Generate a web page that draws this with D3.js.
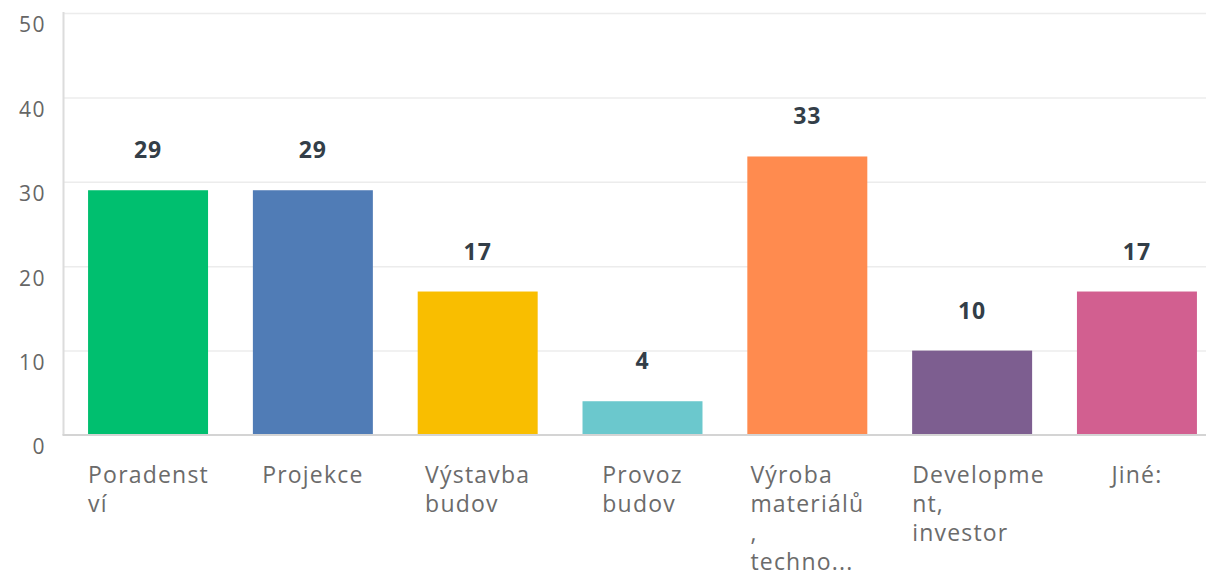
<!DOCTYPE html>
<html>
<head>
<meta charset="utf-8">
<script src="https://cdn.jsdelivr.net/npm/d3@7"></script>
<style>
  body { margin: 0; background: #fff; }
  svg { display: block; }
</style>
</head>
<body>
<svg id="chart"></svg>
<script>
// data
const categories = ["Poradenství", "Projekce", "Výstavba budov", "Provoz budov",
  "Výroba materiálů, techno...", "Development, investor", "Jiné:"];
const tickLines = [
  ["Poradenst", "ví"],
  ["Projekce"],
  ["Výstavba", "budov"],
  ["Provoz", "budov"],
  ["Výroba", "materiálů", ",", "techno..."],
  ["Developme", "nt,", "investor"],
  ["Jiné:"]
];
const values = [29, 29, 17, 4, 33, 10, 17];
const colors = ["#00bf6f", "#507cb6", "#f9be00", "#6bc8cd", "#ff8b4f", "#7d5e90", "#d25f90"];
const yTicks = [0, 10, 20, 30, 40, 50];

const width = 1206, height = 578;
const margin = { top: 13, right: 0, bottom: 143, left: 64 };

const svg = d3.select("#chart")
  .attr("width", width)
  .attr("height", height);

const x = d3.scaleBand()
  .domain(categories)
  .range([margin.left, 1221])
  .paddingInner(0.272)
  .paddingOuter(0.146);

const y = d3.scaleLinear()
  .domain([0, 50])
  .range([height - margin.bottom, margin.top]);

// gridlines + y labels
const yAxis = d3.axisLeft(y)
  .tickValues(yTicks)
  .tickSize(-(width - margin.left))
  .tickFormat(d3.format("d"));

const yAxisGroup = svg.append("g")
  .attr("class", "y-axis")
  .attr("transform", `translate(${margin.left},0)`)
  .call(yAxis);

yAxisGroup.select(".domain").remove();
yAxisGroup.selectAll(".tick line")
  .attr("stroke", "#ececec")
  .attr("stroke-width", 1.5)
  .filter(d => d === 0).remove();
yAxisGroup.selectAll(".tick text")
  .attr("x", -18)
  .attr("dy", "0.9em")
  .style("font-family", "'Open Sans', sans-serif")
  .style("font-size", "21px")
  .style("letter-spacing", "1.5px")
  .attr("fill", "#666");

// vertical axis line
svg.append("line")
  .attr("x1", margin.left - 0.5).attr("x2", margin.left - 0.5)
  .attr("y1", y(50) - 1).attr("y2", y(0))
  .attr("stroke", "#dcdcdc")
  .attr("stroke-width", 2);

// bars
svg.selectAll(".bar")
  .data(values)
  .join("rect")
  .attr("class", "bar")
  .attr("x", (d, i) => x(categories[i]))
  .attr("y", d => y(d))
  .attr("width", x.bandwidth())
  .attr("height", d => y(0) - y(d))
  .attr("fill", (d, i) => colors[i]);

// baseline
svg.append("line")
  .attr("x1", margin.left - 1.5).attr("x2", width)
  .attr("y1", y(0)).attr("y2", y(0))
  .attr("stroke", "#d4d4d4")
  .attr("stroke-width", 2);

// value labels
svg.selectAll(".value")
  .data(values)
  .join("text")
  .attr("class", "value")
  .attr("x", (d, i) => x(categories[i]) + x.bandwidth() / 2)
  .attr("y", d => y(d) - 32)
  .attr("text-anchor", "middle")
  .style("font-family", "'Open Sans', sans-serif")
  .style("font-size", "23px")
  .style("font-weight", "bold")
  .style("letter-spacing", "1px")
  .attr("fill", "#333e48")
  .text(d => d);

// x labels: block of lines, left aligned, block centred under the bar
const xAxis = d3.axisBottom(x).tickSize(0).tickFormat("");
const xAxisGroup = svg.append("g")
  .attr("class", "x-axis")
  .attr("transform", `translate(0,${y(0)})`)
  .call(xAxis);
xAxisGroup.select(".domain").remove();

xAxisGroup.selectAll(".tick").each(function (d, i) {
  const t = d3.select(this).append("text")
    .attr("y", 48)
    .attr("text-anchor", "start")
    .style("font-family", "'Open Sans', sans-serif")
    .style("font-size", "23px")
    .style("letter-spacing", "1.2px")
    .attr("fill", "#6b6b6b");
  const spans = t.selectAll("tspan")
    .data(tickLines[i])
    .join("tspan")
    .attr("dy", (l, j) => j === 0 ? 0 : 29)
    .text(l => l);
  let w = 0;
  spans.each(function () { w = Math.max(w, this.getComputedTextLength()); });
  w = Math.min(w, x.bandwidth());
  spans.attr("x", -w / 2);
});
</script>
</body>
</html>
